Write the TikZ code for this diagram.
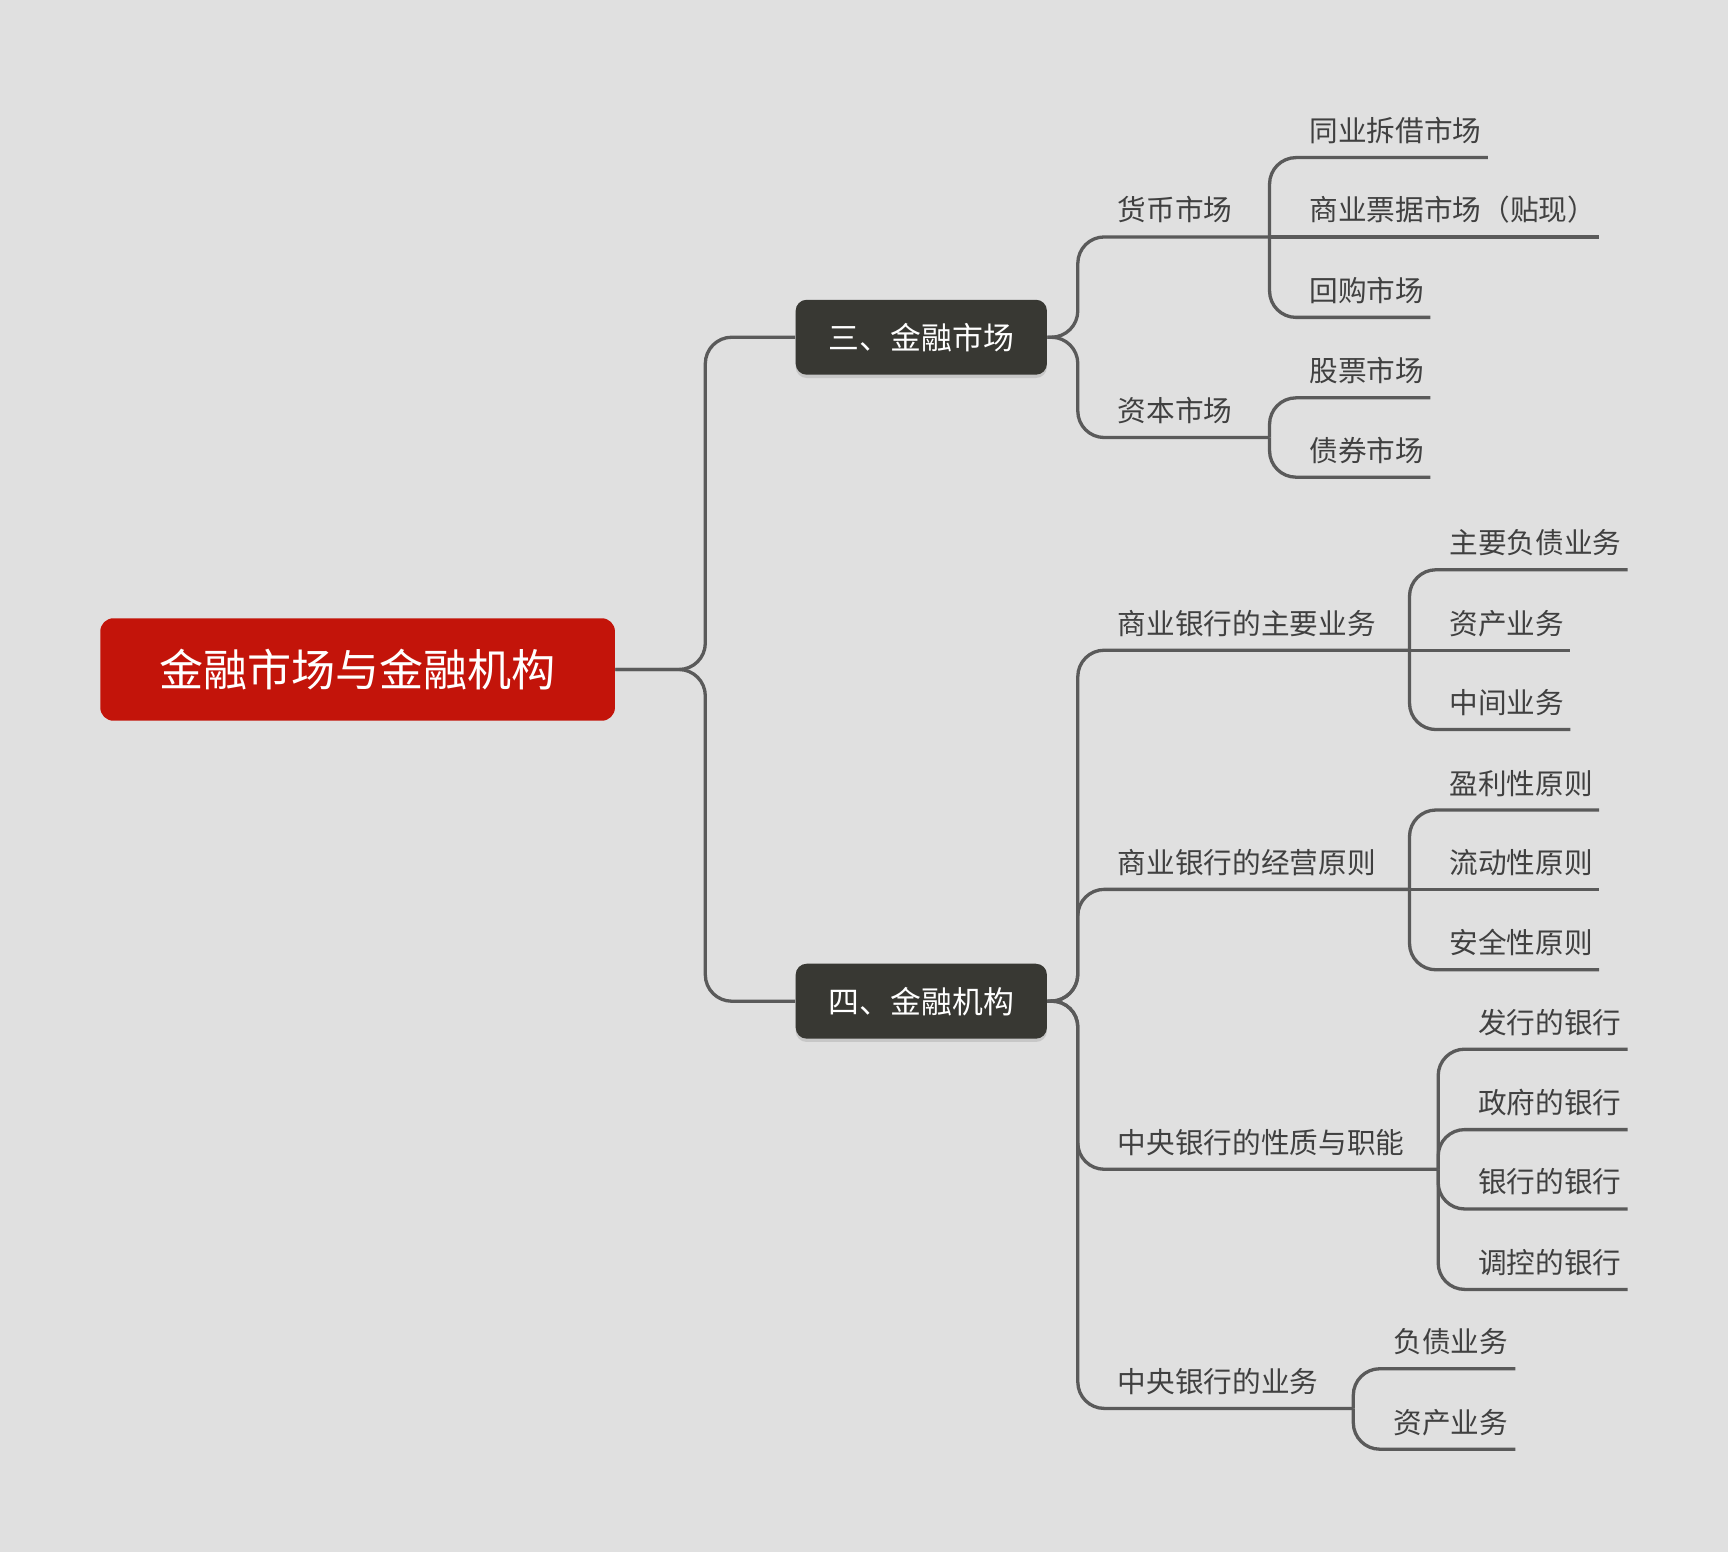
\documentclass[tikz,border=0pt]{standalone}
\usepackage{fontspec}
\setmainfont{Noto Sans CJK SC}
\usetikzlibrary{shadows}
\definecolor{bg}{HTML}{E0E0E0}
\definecolor{ln}{HTML}{5A5A5A}
\definecolor{dk}{HTML}{383833}
\definecolor{rd}{HTML}{C3140A}
\begin{document}
\begin{tikzpicture}[x=0.5pt,y=-0.5pt,
  conn/.style={draw=ln,line width=1.5pt,rounded corners=12pt},
  lbl/.style={anchor=south west,inner sep=0pt,text=black!75,font=\fontsize{13pt}{15pt}\selectfont},
  mid/.style={rectangle,rounded corners=5pt,fill=dk,text=white,minimum width=114pt,minimum height=34pt,font=\fontsize{14pt}{16pt}\selectfont,drop shadow={opacity=0.25,shadow xshift=0pt,shadow yshift=-1.5pt}}]
\fill[bg] (0,0) rectangle (1568,1408);
\useasboundingbox (0,0) rectangle (1568,1408);
\node[rectangle,rounded corners=6pt,fill=rd,text=white,minimum width=233.5pt,minimum height=46.5pt,font=\fontsize{20pt}{24pt}\selectfont] (root) at (324.5,607.5) {金融市场与金融机构};
\node[mid] (m3) at (836,306) {三、金融市场};
\node[mid] (m4) at (836,908.5) {四、金融机构};
\draw[conn] (root.east) -- (640,607.5) |- (m3.west);
\draw[conn] (root.east) -- (640,607.5) |- (m4.west);
% level labels
\node[lbl] (a1) at (1014,203) {货币市场};
\node[lbl] (a2) at (1014,385) {资本市场};
\node[lbl] (b1) at (1014,578) {商业银行的主要业务};
\node[lbl] (b2) at (1014,795) {商业银行的经营原则};
\node[lbl] (b3) at (1014,1049) {中央银行的性质与职能};
\node[lbl] (b4) at (1014,1266) {中央银行的业务};
% leaves
\node[lbl] (l1) at (1188,131) {同业拆借市场};
\node[lbl] (l2) at (1188,203) {商业票据市场（贴现）};
\node[lbl] (l3) at (1188,276) {回购市场};
\node[lbl] (l4) at (1188,349) {股票市场};
\node[lbl] (l5) at (1188,421) {债券市场};
\node[lbl] (c1) at (1315,505) {主要负债业务};
\node[lbl] (c2) at (1315,578) {资产业务};
\node[lbl] (c3) at (1315,650) {中间业务};
\node[lbl] (c4) at (1315,723) {盈利性原则};
\node[lbl] (c5) at (1315,795) {流动性原则};
\node[lbl] (c6) at (1315,868) {安全性原则};
\node[lbl] (d1) at (1341,940) {发行的银行};
\node[lbl] (d2) at (1341,1013) {政府的银行};
\node[lbl] (d3) at (1341,1085) {银行的银行};
\node[lbl] (d4) at (1341,1158) {调控的银行};
\node[lbl] (e1) at (1264,1230) {负债业务};
\node[lbl] (e2) at (1264,1303) {资产业务};
% 三 branches
\draw[conn] (m3.east) -- (978,306) |- (1152,215);
\draw[conn] (m3.east) -- (978,306) |- (1152,397);
\draw[conn] (1152,215) |- (1350,143);
\draw[conn] (1152,215) -- (1451,215);
\draw[conn] (1152,215) |- (1298,288);
\draw[conn] (1152,397) |- (1298,361);
\draw[conn] (1152,397) |- (1298,433);
% 四 branches
\draw[conn] (m4.east) -- (978,908) |- (1279,590);
\draw[conn] (m4.east) -- (978,908) |- (1279,807);
\draw[conn] (m4.east) -- (978,908) |- (1305,1061);
\draw[conn] (m4.east) -- (978,908) |- (1228,1278);
\draw[conn] (1279,590) |- (1477,517);
\draw[conn] (1279,590) -- (1425,590);
\draw[conn] (1279,590) |- (1425,662);
\draw[conn] (1279,807) |- (1451,735);
\draw[conn] (1279,807) -- (1451,807);
\draw[conn] (1279,807) |- (1451,880);
\draw[conn] (1305,1061) |- (1477,952);
\draw[conn] (1305,1061) |- (1477,1025);
\draw[conn] (1305,1061) |- (1477,1097);
\draw[conn] (1305,1061) |- (1477,1170);
\draw[conn] (1228,1278) |- (1375,1242);
\draw[conn] (1228,1278) |- (1375,1315);
\end{tikzpicture}
\end{document}
